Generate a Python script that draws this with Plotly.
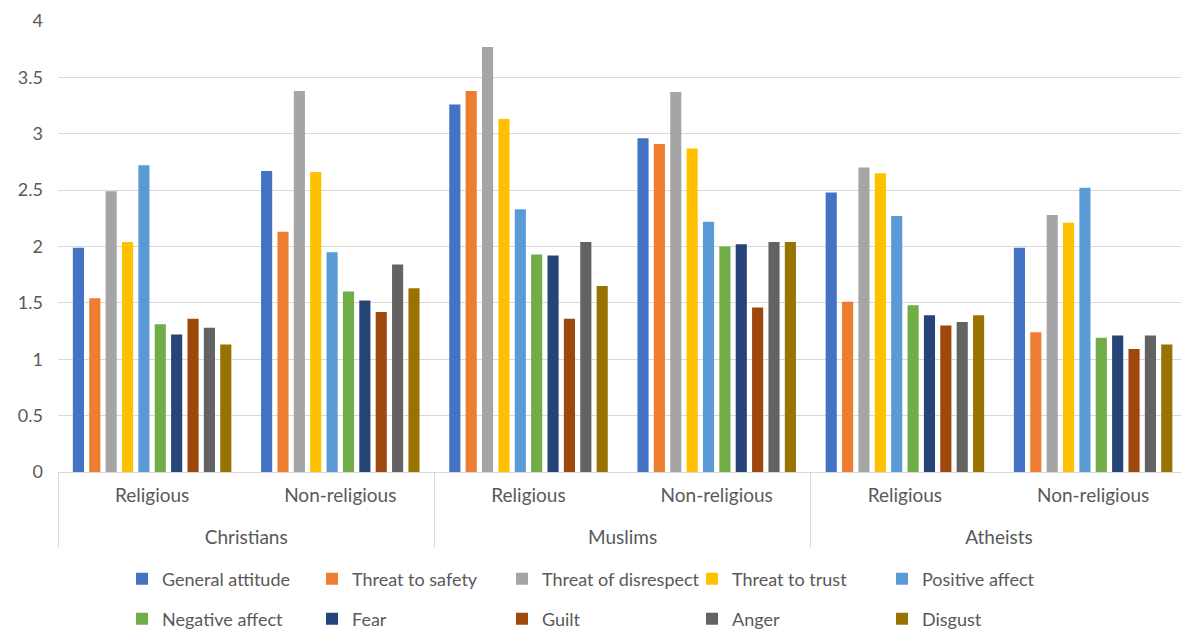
import plotly.graph_objects as go

# Categories (two-level axis)
groups = ["Christians", "Christians", "Muslims", "Muslims", "Atheists", "Atheists"]
subgroups = ["Religious", "Non-religious", "Religious", "Non-religious", "Religious", "Non-religious"]

# Series values (order follows the categories above)
general_attitude = [1.99, 2.67, 3.26, 2.96, 2.48, 1.99]
threat_to_safety = [1.54, 2.13, 3.38, 2.91, 1.51, 1.24]
threat_of_disrespect = [2.49, 3.38, 3.77, 3.37, 2.70, 2.28]
threat_to_trust = [2.04, 2.66, 3.13, 2.87, 2.65, 2.21]
positive_affect = [2.72, 1.95, 2.33, 2.22, 2.27, 2.52]
negative_affect = [1.31, 1.60, 1.93, 2.00, 1.48, 1.19]
fear = [1.22, 1.52, 1.92, 2.02, 1.39, 1.21]
guilt = [1.36, 1.42, 1.36, 1.46, 1.30, 1.09]
anger = [1.28, 1.84, 2.04, 2.04, 1.33, 1.21]
disgust = [1.13, 1.63, 1.65, 2.04, 1.39, 1.13]

series_names = ["General attitude", "Threat to safety", "Threat of disrespect", "Threat to trust",
                "Positive affect", "Negative affect", "Fear", "Guilt", "Anger", "Disgust"]
series_values = [general_attitude, threat_to_safety, threat_of_disrespect, threat_to_trust,
                 positive_affect, negative_affect, fear, guilt, anger, disgust]
colors = ["#4472C4", "#ED7D31", "#A5A5A5", "#FFC000", "#5B9BD5",
          "#70AD47", "#264478", "#9E480E", "#636363", "#997300"]

y_ticks = [0, 0.5, 1, 1.5, 2, 2.5, 3, 3.5, 4]

FONT = "Lato, Carlito, Calibri, sans-serif"
TXT = "#595959"
GRID = "#D9D9D9"

# sub-level labels get an extra blank line so the group row sits lower, as in the original
sub_labels = [s + "<br><span style='font-size:9px'>\u00a0</span>" for s in subgroups]

fig = go.Figure()
for i, (name, vals, col) in enumerate(zip(series_names, series_values, colors)):
    fig.add_trace(go.Bar(
        name=name,
        x=[groups, sub_labels],
        y=vals,
        marker=dict(color=col, line=dict(width=0)),
        legend="legend" if i < 5 else "legend2",
    ))

legend_common = dict(
    orientation="h",
    xanchor="left",
    yanchor="middle",
    yref="container",
    entrywidth=145,
    font=dict(family=FONT, size=18, color=TXT),
    bgcolor="rgba(0,0,0,0)",
    itemclick=False,
)

fig.update_layout(
    width=1181,
    height=629,
    margin=dict(l=58, r=0, t=21, b=157, autoexpand=False),
    paper_bgcolor="white",
    plot_bgcolor="white",
    barmode="group",
    bargap=0.13,
    bargroupgap=0.32,
    font=dict(family=FONT, size=18, color=TXT),
    legend=dict(legend_common, x=0.057, y=1 - 579 / 629),
    legend2=dict(legend_common, x=0.057, y=1 - 619 / 629),
    xaxis=dict(
        type="multicategory",
        range=[-0.5, 5.467],
        showline=True,
        linecolor=GRID,
        linewidth=1,
        showdividers=True,
        dividercolor=GRID,
        dividerwidth=1,
        tickfont=dict(family=FONT, size=19, color=TXT),
        ticklabelstandoff=6,
        showgrid=False,
        ticks="",
    ),
    yaxis=dict(
        range=[0, 4],
        tickvals=y_ticks,
        showgrid=True,
        gridcolor=GRID,
        gridwidth=1,
        zeroline=False,
        showline=False,
        ticks="",
        ticklabelstandoff=14,
        tickfont=dict(family=FONT, size=18, color=TXT),
    ),
)

fig.write_html("out.html")
